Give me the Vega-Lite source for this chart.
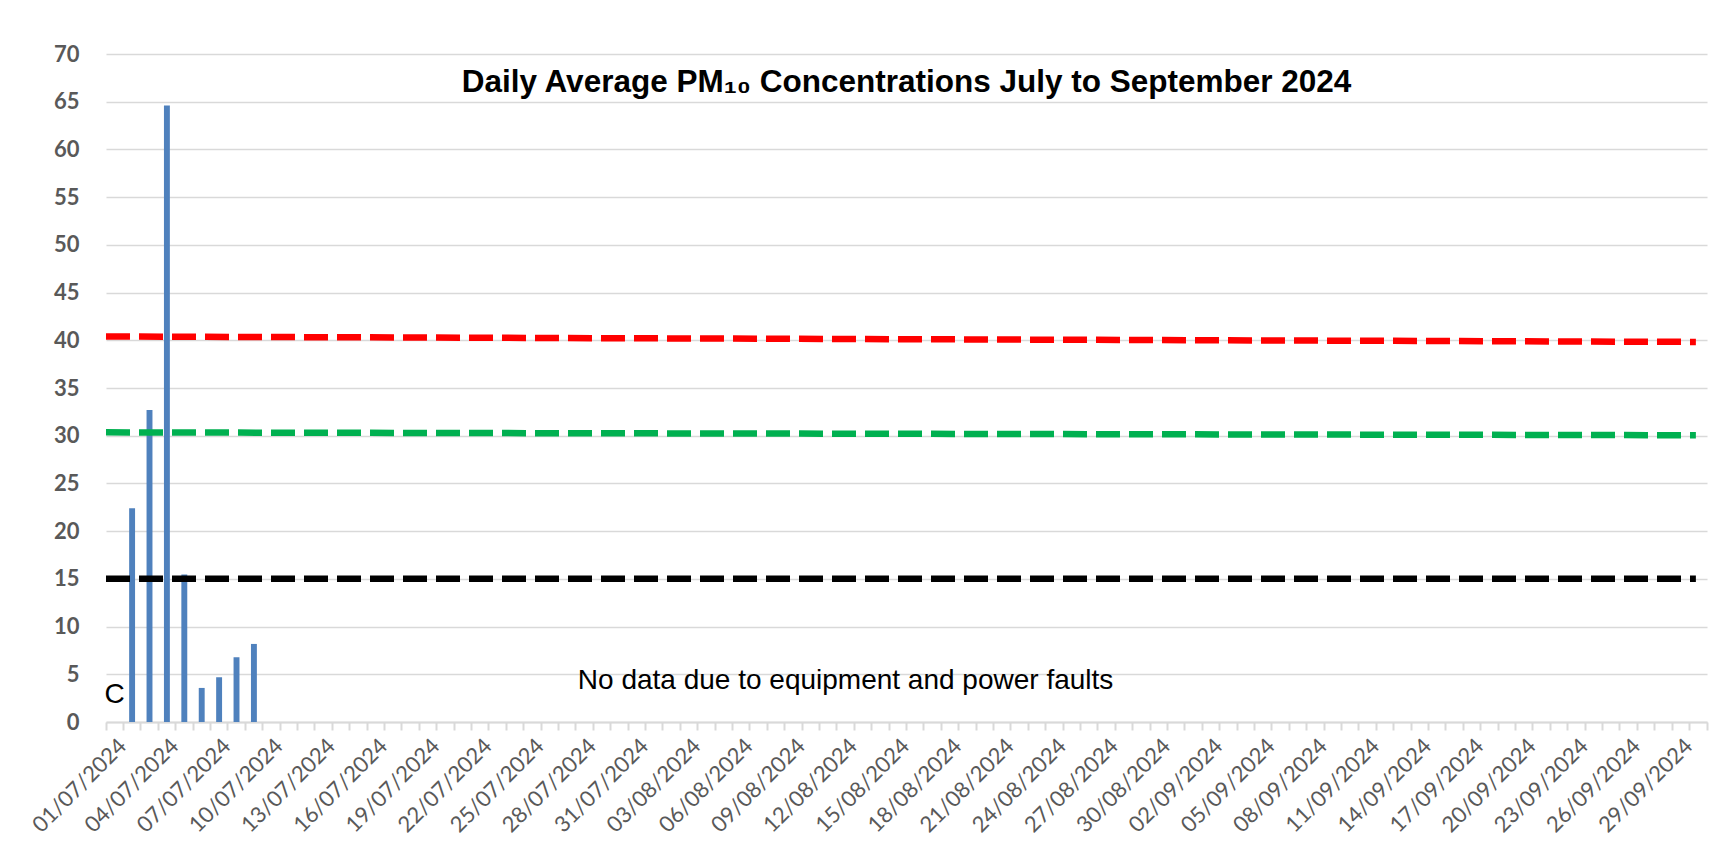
{
  "$schema": "https://vega.github.io/schema/vega-lite/v6.json",
  "width": 1601,
  "height": 668,
  "autosize": {"type": "none"},
  "padding": {"left": 106, "top": 54, "right": 19, "bottom": 130},
  "background": "#ffffff",
  "config": {"view": {"stroke": null}},
  "title": {
    "text": "Daily Average PM₁₀ Concentrations July to September 2024",
    "font": "Liberation Sans",
    "fontSize": 31.5,
    "fontWeight": "bold",
    "color": "#000000",
    "anchor": "middle",
    "baseline": "alphabetic",
    "offset": -80
  },
  "datasets": {
    "pm": [
      {"date": "01/07/2024", "pm10": null},
      {"date": "02/07/2024", "pm10": 22.4},
      {"date": "03/07/2024", "pm10": 32.7},
      {"date": "04/07/2024", "pm10": 64.6},
      {"date": "05/07/2024", "pm10": 15.45},
      {"date": "06/07/2024", "pm10": 3.57},
      {"date": "07/07/2024", "pm10": 4.69},
      {"date": "08/07/2024", "pm10": 6.78},
      {"date": "09/07/2024", "pm10": 8.18},
      {"date": "10/07/2024", "pm10": null},
      {"date": "11/07/2024", "pm10": null},
      {"date": "12/07/2024", "pm10": null},
      {"date": "13/07/2024", "pm10": null},
      {"date": "14/07/2024", "pm10": null},
      {"date": "15/07/2024", "pm10": null},
      {"date": "16/07/2024", "pm10": null},
      {"date": "17/07/2024", "pm10": null},
      {"date": "18/07/2024", "pm10": null},
      {"date": "19/07/2024", "pm10": null},
      {"date": "20/07/2024", "pm10": null},
      {"date": "21/07/2024", "pm10": null},
      {"date": "22/07/2024", "pm10": null},
      {"date": "23/07/2024", "pm10": null},
      {"date": "24/07/2024", "pm10": null},
      {"date": "25/07/2024", "pm10": null},
      {"date": "26/07/2024", "pm10": null},
      {"date": "27/07/2024", "pm10": null},
      {"date": "28/07/2024", "pm10": null},
      {"date": "29/07/2024", "pm10": null},
      {"date": "30/07/2024", "pm10": null},
      {"date": "31/07/2024", "pm10": null},
      {"date": "01/08/2024", "pm10": null},
      {"date": "02/08/2024", "pm10": null},
      {"date": "03/08/2024", "pm10": null},
      {"date": "04/08/2024", "pm10": null},
      {"date": "05/08/2024", "pm10": null},
      {"date": "06/08/2024", "pm10": null},
      {"date": "07/08/2024", "pm10": null},
      {"date": "08/08/2024", "pm10": null},
      {"date": "09/08/2024", "pm10": null},
      {"date": "10/08/2024", "pm10": null},
      {"date": "11/08/2024", "pm10": null},
      {"date": "12/08/2024", "pm10": null},
      {"date": "13/08/2024", "pm10": null},
      {"date": "14/08/2024", "pm10": null},
      {"date": "15/08/2024", "pm10": null},
      {"date": "16/08/2024", "pm10": null},
      {"date": "17/08/2024", "pm10": null},
      {"date": "18/08/2024", "pm10": null},
      {"date": "19/08/2024", "pm10": null},
      {"date": "20/08/2024", "pm10": null},
      {"date": "21/08/2024", "pm10": null},
      {"date": "22/08/2024", "pm10": null},
      {"date": "23/08/2024", "pm10": null},
      {"date": "24/08/2024", "pm10": null},
      {"date": "25/08/2024", "pm10": null},
      {"date": "26/08/2024", "pm10": null},
      {"date": "27/08/2024", "pm10": null},
      {"date": "28/08/2024", "pm10": null},
      {"date": "29/08/2024", "pm10": null},
      {"date": "30/08/2024", "pm10": null},
      {"date": "31/08/2024", "pm10": null},
      {"date": "01/09/2024", "pm10": null},
      {"date": "02/09/2024", "pm10": null},
      {"date": "03/09/2024", "pm10": null},
      {"date": "04/09/2024", "pm10": null},
      {"date": "05/09/2024", "pm10": null},
      {"date": "06/09/2024", "pm10": null},
      {"date": "07/09/2024", "pm10": null},
      {"date": "08/09/2024", "pm10": null},
      {"date": "09/09/2024", "pm10": null},
      {"date": "10/09/2024", "pm10": null},
      {"date": "11/09/2024", "pm10": null},
      {"date": "12/09/2024", "pm10": null},
      {"date": "13/09/2024", "pm10": null},
      {"date": "14/09/2024", "pm10": null},
      {"date": "15/09/2024", "pm10": null},
      {"date": "16/09/2024", "pm10": null},
      {"date": "17/09/2024", "pm10": null},
      {"date": "18/09/2024", "pm10": null},
      {"date": "19/09/2024", "pm10": null},
      {"date": "20/09/2024", "pm10": null},
      {"date": "21/09/2024", "pm10": null},
      {"date": "22/09/2024", "pm10": null},
      {"date": "23/09/2024", "pm10": null},
      {"date": "24/09/2024", "pm10": null},
      {"date": "25/09/2024", "pm10": null},
      {"date": "26/09/2024", "pm10": null},
      {"date": "27/09/2024", "pm10": null},
      {"date": "28/09/2024", "pm10": null},
      {"date": "29/09/2024", "pm10": null},
      {"date": "30/09/2024", "pm10": null}
    ],
    "notes": [
      {"date": "01/07/2024", "level": 2.8, "note": "C"},
      {"date": "12/08/2024", "level": 4.3, "note": "No data due to equipment and power faults"}
    ],
    "limits": [
      {"limit": "red", "t": 0, "level": 40.4},
      {"limit": "red", "t": 1, "level": 39.83},
      {"limit": "green", "t": 0, "level": 30.35},
      {"limit": "green", "t": 1, "level": 30.05},
      {"limit": "black", "t": 0, "level": 15},
      {"limit": "black", "t": 1, "level": 15}
    ]
  },
  "layer": [
    {
      "data": {"name": "pm"},
      "mark": {"type": "bar", "color": "#4F81BD", "width": {"band": 0.34}},
      "encoding": {
        "x": {
          "field": "date",
          "type": "ordinal",
          "sort": null,
          "scale": {
            "paddingInner": 0,
            "paddingOuter": 0,
            "domain": ["01/07/2024","02/07/2024","03/07/2024","04/07/2024","05/07/2024","06/07/2024","07/07/2024","08/07/2024","09/07/2024","10/07/2024","11/07/2024","12/07/2024","13/07/2024","14/07/2024","15/07/2024","16/07/2024","17/07/2024","18/07/2024","19/07/2024","20/07/2024","21/07/2024","22/07/2024","23/07/2024","24/07/2024","25/07/2024","26/07/2024","27/07/2024","28/07/2024","29/07/2024","30/07/2024","31/07/2024","01/08/2024","02/08/2024","03/08/2024","04/08/2024","05/08/2024","06/08/2024","07/08/2024","08/08/2024","09/08/2024","10/08/2024","11/08/2024","12/08/2024","13/08/2024","14/08/2024","15/08/2024","16/08/2024","17/08/2024","18/08/2024","19/08/2024","20/08/2024","21/08/2024","22/08/2024","23/08/2024","24/08/2024","25/08/2024","26/08/2024","27/08/2024","28/08/2024","29/08/2024","30/08/2024","31/08/2024","01/09/2024","02/09/2024","03/09/2024","04/09/2024","05/09/2024","06/09/2024","07/09/2024","08/09/2024","09/09/2024","10/09/2024","11/09/2024","12/09/2024","13/09/2024","14/09/2024","15/09/2024","16/09/2024","17/09/2024","18/09/2024","19/09/2024","20/09/2024","21/09/2024","22/09/2024","23/09/2024","24/09/2024","25/09/2024","26/09/2024","27/09/2024","28/09/2024","29/09/2024","30/09/2024"]
          },
          "axis": {
            "title": null,
            "bandPosition": 0,
            "domainColor": "#D9D9D9",
            "domainWidth": 2,
            "tickColor": "#D9D9D9",
            "tickWidth": 2,
            "tickSize": 8,
            "grid": false,
            "labelOverlap": false,
            "labelAngle": -45,
            "labelAlign": "right",
            "labelBaseline": "top",
            "labelOffset": 1,
            "labelPadding": 5,
            "labelFont": "Lato",
            "labelFontSize": 22,
            "labelColor": "#595959",
            "labelExpr": "indexof(['01/07/2024','04/07/2024','07/07/2024','10/07/2024','13/07/2024','16/07/2024','19/07/2024','22/07/2024','25/07/2024','28/07/2024','31/07/2024','03/08/2024','06/08/2024','09/08/2024','12/08/2024','15/08/2024','18/08/2024','21/08/2024','24/08/2024','27/08/2024','30/08/2024','02/09/2024','05/09/2024','08/09/2024','11/09/2024','14/09/2024','17/09/2024','20/09/2024','23/09/2024','26/09/2024','29/09/2024'], datum.value) >= 0 ? datum.value : ''"
          }
        },
        "y": {
          "field": "pm10",
          "type": "quantitative",
          "scale": {"domain": [0, 70], "nice": false},
          "axis": {
            "title": null,
            "values": [0, 5, 10, 15, 20, 25, 30, 35, 40, 45, 50, 55, 60, 65, 70],
            "domain": false,
            "ticks": false,
            "gridColor": "#D9D9D9",
            "gridWidth": 1.5,
            "labelFont": "Lato",
            "labelFontSize": 22,
            "labelFontWeight": "bold",
            "labelColor": "#595959",
            "labelPadding": 27
          }
        }
      }
    },
    {
      "data": {"name": "notes"},
      "mark": {"type": "text", "font": "Liberation Sans", "fontSize": 28, "color": "#000000", "align": "center", "baseline": "middle"},
      "encoding": {
        "x": {
          "field": "date",
          "type": "ordinal",
          "sort": null,
          "axis": null,
          "scale": {
            "paddingInner": 0,
            "paddingOuter": 0,
            "domain": ["01/07/2024","02/07/2024","03/07/2024","04/07/2024","05/07/2024","06/07/2024","07/07/2024","08/07/2024","09/07/2024","10/07/2024","11/07/2024","12/07/2024","13/07/2024","14/07/2024","15/07/2024","16/07/2024","17/07/2024","18/07/2024","19/07/2024","20/07/2024","21/07/2024","22/07/2024","23/07/2024","24/07/2024","25/07/2024","26/07/2024","27/07/2024","28/07/2024","29/07/2024","30/07/2024","31/07/2024","01/08/2024","02/08/2024","03/08/2024","04/08/2024","05/08/2024","06/08/2024","07/08/2024","08/08/2024","09/08/2024","10/08/2024","11/08/2024","12/08/2024","13/08/2024","14/08/2024","15/08/2024","16/08/2024","17/08/2024","18/08/2024","19/08/2024","20/08/2024","21/08/2024","22/08/2024","23/08/2024","24/08/2024","25/08/2024","26/08/2024","27/08/2024","28/08/2024","29/08/2024","30/08/2024","31/08/2024","01/09/2024","02/09/2024","03/09/2024","04/09/2024","05/09/2024","06/09/2024","07/09/2024","08/09/2024","09/09/2024","10/09/2024","11/09/2024","12/09/2024","13/09/2024","14/09/2024","15/09/2024","16/09/2024","17/09/2024","18/09/2024","19/09/2024","20/09/2024","21/09/2024","22/09/2024","23/09/2024","24/09/2024","25/09/2024","26/09/2024","27/09/2024","28/09/2024","29/09/2024","30/09/2024"]
          }
        },
        "y": {"field": "level", "type": "quantitative", "scale": {"domain": [0, 70], "nice": false}},
        "text": {"field": "note"}
      }
    },
    {
      "data": {"name": "limits"},
      "mark": {"type": "line", "strokeWidth": 6.5, "strokeDash": [24, 9], "strokeCap": "butt"},
      "encoding": {
        "x": {
          "field": "t",
          "type": "quantitative",
          "scale": {"domain": [0, 1.007], "nice": false, "zero": false},
          "axis": {
            "orient": "bottom",
            "title": null,
            "values": [1.007],
            "labels": false,
            "domain": false,
            "grid": false,
            "tickColor": "#D9D9D9",
            "tickWidth": 2,
            "tickSize": 8
          }
        },
        "y": {"field": "level", "type": "quantitative", "scale": {"domain": [0, 70], "nice": false}},
        "color": {
          "field": "limit",
          "type": "nominal",
          "legend": null,
          "scale": {"domain": ["red", "green", "black"], "range": ["#FF0000", "#00B050", "#000000"]}
        }
      }
    }
  ],
  "resolve": {"scale": {"x": "independent"}}
}
